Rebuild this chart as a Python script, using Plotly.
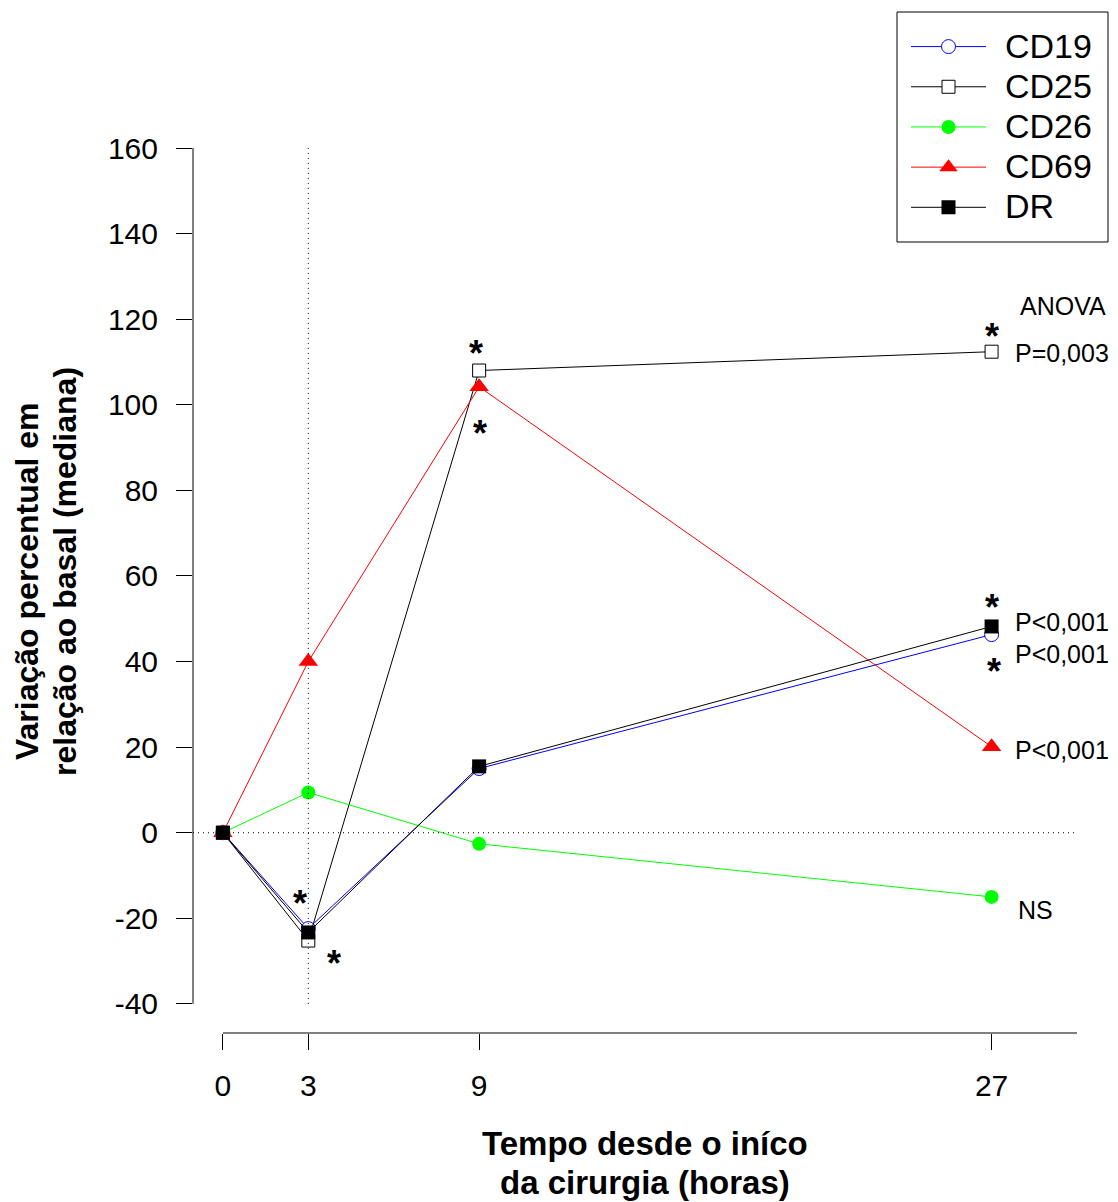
import plotly.graph_objects as go

hours = [0, 3, 9, 27]
cd19 = [0, -22.4, 15.0, 46.3]
cd25 = [0, -25.2, 108.0, 112.4]
cd26 = [0, 9.4, -2.6, -15.0]
cd69 = [0, 40.0, 104.2, 20.1]
dr = [0, -23.3, 15.5, 48.2]

y_ticks = [-40, -20, 0, 20, 40, 60, 80, 100, 120, 140, 160]
y_ticktext = ["-40", "-20", "0", "20", "40", "60", "80", "100", "120", "140", "160"]
x_ticks = [0, 3, 9, 27]
x_ticktext = ["0", "3", "9", "27"]

FONT = "Liberation Sans, Arial, sans-serif"

# pixel helpers for the plot area (l=193, r=1077, top=148, bottom=1033)
L, R, T, B = 193, 1077, 148, 1033
def px(x):
    return (x - L) / (R - L)
def py(y):
    return (B - y) / (B - T)

fig = go.Figure()

series = [
    ("CD19", cd19, "#0000FF", dict(symbol="circle", size=14, color="white", line=dict(color="#0000FF", width=1))),
    ("CD25", cd25, "black", dict(symbol="square", size=13, color="white", line=dict(color="black", width=1))),
    ("CD26", cd26, "#00FF00", dict(symbol="circle", size=14, color="#00FF00", line=dict(width=0))),
    ("CD69", cd69, "#FF0000", dict(symbol="triangle-up", size=17, color="#FF0000", line=dict(width=0))),
    ("DR", dr, "black", dict(symbol="square", size=14, color="black", line=dict(width=0))),
]
for name, vals, col, mk in series:
    label = ("<span style='font-size:50px'>\u00a0</span>"
             "<span style='font-size:34px'>" + name + "</span>")
    fig.add_trace(go.Scatter(x=hours, y=vals, name=label, mode="lines+markers",
                             line=dict(color=col, width=1), marker=mk, cliponaxis=False))

# reference lines
fig.add_shape(type="line", xref="x", yref="y", x0=3, x1=3, y0=-40, y1=160,
              line=dict(color="black", width=1, dash="1px,4px"))
fig.add_shape(type="line", xref="paper", yref="y", x0=0, x1=1, y0=0, y1=0,
              line=dict(color="black", width=1, dash="1px,4px"))
# axis lines
fig.add_shape(type="line", xref="paper", yref="y", x0=0, x1=0, y0=-40, y1=160,
              line=dict(color="black", width=1))
fig.add_shape(type="line", xref="x", yref="paper", x0=0, x1=30, y0=0, y1=0,
              line=dict(color="black", width=1))
# legend frame
fig.add_shape(type="rect", xref="paper", yref="paper", x0=px(897), x1=px(1108),
              y0=py(242), y1=py(12), line=dict(color="black", width=1))

stars = [(8.89, 112.6), (9.03, 93.9), (2.70, -15.9), (3.90, -29.9),
         (27.01, 116.6), (27.01, 53.3), (27.08, 38.3)]
for sx, sy in stars:
    fig.add_annotation(x=sx, y=sy, text="<b>*</b>", showarrow=False, yshift=-3,
                       font=dict(family=FONT, size=36, color="black"))

labels = [("ANOVA", 29.5, 123.1, "center"), ("P=0,003", 27.75, 112.1, "left"),
          ("P<0,001", 27.75, 49.3, "left"), ("P<0,001", 27.75, 41.8, "left"),
          ("P<0,001", 27.75, 19.4, "left"), ("NS", 27.85, -18.0, "left")]
for t, lx, ly, anc in labels:
    fig.add_annotation(x=lx, y=ly, text=t, showarrow=False, xanchor=anc,
                       font=dict(family=FONT, size=25, color="black"))

# axis titles (two lines each)
for txt, xpix, ypix in [("Variação percentual em", 27, 581),
                        ("relação ao basal (mediana)", 65, 572)]:
    fig.add_annotation(xref="paper", yref="paper", x=px(xpix), y=py(ypix),
                       text="<b>" + txt + "</b>", textangle=-90, showarrow=False,
                       xanchor="center", yanchor="middle",
                       font=dict(family=FONT, size=32, color="black"))
for txt, ypix in [("Tempo desde o iníco", 1143), ("da cirurgia (horas)", 1182)]:
    fig.add_annotation(xref="paper", yref="paper", x=px(645), y=py(ypix),
                       text="<b>" + txt + "</b>", showarrow=False,
                       xanchor="center", yanchor="middle",
                       font=dict(family=FONT, size=33, color="black"))

fig.update_xaxes(range=[-1.05, 30], tickvals=x_ticks, ticktext=x_ticktext,
                 ticks="outside", ticklen=16, tickcolor="black", tickwidth=1,
                 showline=False, showgrid=False, zeroline=False,
                 ticklabelstandoff=10,
                 tickfont=dict(family=FONT, size=30, color="black"))
fig.update_yaxes(range=[-46.8, 160], tickvals=y_ticks, ticktext=y_ticktext,
                 ticks="outside", ticklen=16, tickcolor="black", tickwidth=1,
                 showline=False, showgrid=False, zeroline=False,
                 ticklabelstandoff=12,
                 tickfont=dict(family=FONT, size=30, color="black"))

fig.update_layout(
    width=1118, height=1202,
    margin=dict(l=L, r=1118 - R, t=T, b=1202 - B),
    paper_bgcolor="white", plot_bgcolor="white",
    showlegend=True,
    legend=dict(x=px(906), y=py(21.5), xanchor="left", yanchor="top",
                borderwidth=0, bgcolor="rgba(0,0,0,0)",
                font=dict(family=FONT, size=28.6, color="black"),
                itemwidth=75, tracegroupgap=0),
)

fig.write_html("out.html", config={"displayModeBar": False},
               post_script="document.body.style.margin='0';")
